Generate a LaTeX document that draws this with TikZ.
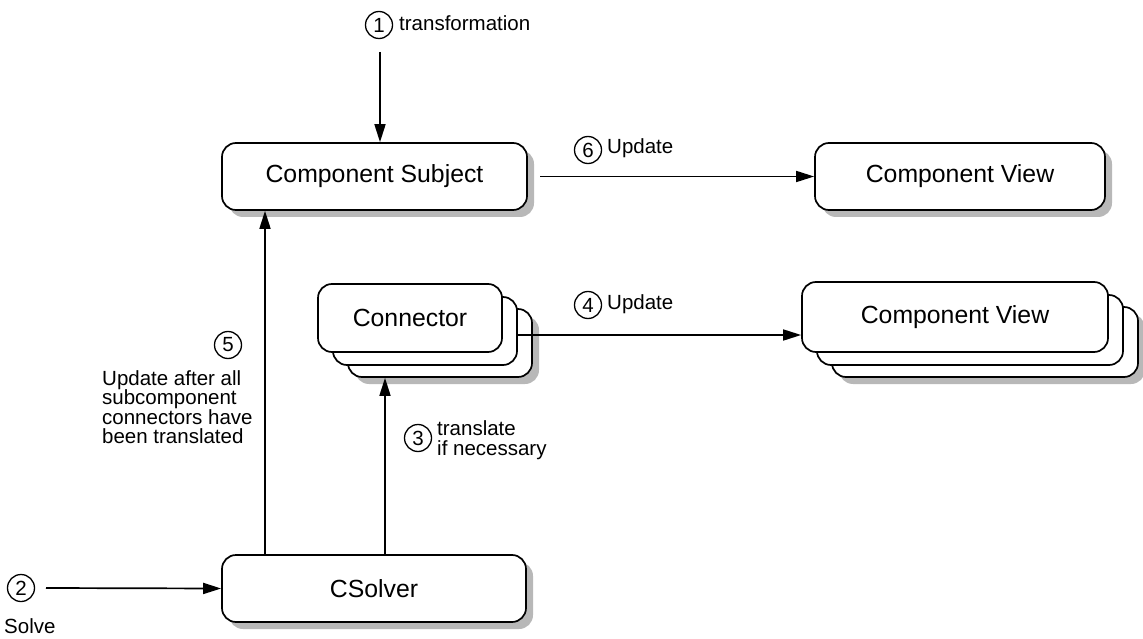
\documentclass[tikz,border=0pt]{standalone}
\usepackage{fontspec}
\setmainfont{Liberation Sans}
\usetikzlibrary{arrows.meta,shadows}
\newcommand{\bigfs}{\fontsize{24.8}{28}\selectfont}
\newcommand{\smallfs}{\fontsize{20.5}{19.5}\selectfont}
\begin{document}
\begin{tikzpicture}[x=1pt,y=-1pt,
  box/.style={draw, line width=1.7pt, rounded corners=14pt, fill=white, inner sep=0pt, font=\bigfs},
  shad/.style={drop shadow={shadow xshift=7pt, shadow yshift=-7pt, fill=black!28, opacity=1}},
  num/.style={circle, draw, line width=1.3pt, minimum size=27pt, inner sep=0pt, font=\smallfs},
  lbl/.style={font=\smallfs, inner sep=0pt},
  arr/.style={line width=1.7pt, -{Triangle[length=18pt,width=11pt]}}]
\useasboundingbox (0,0) rectangle (1143,639);
% boxes
\node[box, shad, minimum width=305pt, minimum height=67pt] (cs) at (374.5,176.5) {Component Subject};
\node[box, shad, minimum width=290pt, minimum height=67pt] (cv) at (960,176.5) {Component View};
\node[box, shad, minimum width=304pt, minimum height=67pt] (cso) at (374,588.5) {CSolver};
% connector stack
\node[box, shad, minimum width=184pt, minimum height=68pt] (conC) at (440,343) {};
\node[box, minimum width=184pt, minimum height=68pt] (conB) at (425,331) {};
\node[box, minimum width=184pt, minimum height=68pt] (conA) at (410,318) {Connector};
% component view stack
\node[box, shad, minimum width=306pt, minimum height=70pt] (cvC) at (985,342) {};
\node[box, minimum width=306pt, minimum height=70pt] (cvB) at (970,330) {};
\node[box, minimum width=306pt, minimum height=70pt] (cvA) at (955,317) {Component View};
% numbers and labels
\node[num] (n1) at (379,25) {1};
\node[lbl, anchor=west] (l1) at (399,23) {transformation};
\node[num] (n6) at (588,150) {6};
\node[lbl, anchor=west] (l6) at (607,148) {Update};
\node[num] (n4) at (588,305) {4};
\node[lbl, anchor=west] (l4) at (607,304) {Update};
\node[num] (n5) at (228,345) {5};
\node[lbl, anchor=north west, align=left] (l5) at (102,370) {Update after all\\subcomponent\\connectors have\\been translated};
\node[num] (n3) at (418,438) {3};
\node[lbl, anchor=west, align=left] (l3) at (437,440) {translate\\if necessary};
\node[num] (n2) at (21,588) {2};
\node[lbl, anchor=west] (l2) at (4,626) {Solve};
% connectors
\coordinate (s1) at (380,52);
\draw[arr] (s1) -- (s1 |- cs.north);
\coordinate (s6) at (540,176.5);
\draw[arr] (s6) -- (cv.west);
\coordinate (y4) at (0,335);
\draw[arr] (conB.east |- y4) -- (cvA.west |- y4);
\coordinate (x3) at (385,0);
\draw[arr] (cso.north -| x3) -- (conC.south -| x3);
\coordinate (x5) at (265,0);
\draw[arr] (cso.north -| x5) -- (cs.south -| x5);
\coordinate (s2) at (46,588);
\draw[arr] (s2) -- (cso.west);
\end{tikzpicture}
\end{document}
